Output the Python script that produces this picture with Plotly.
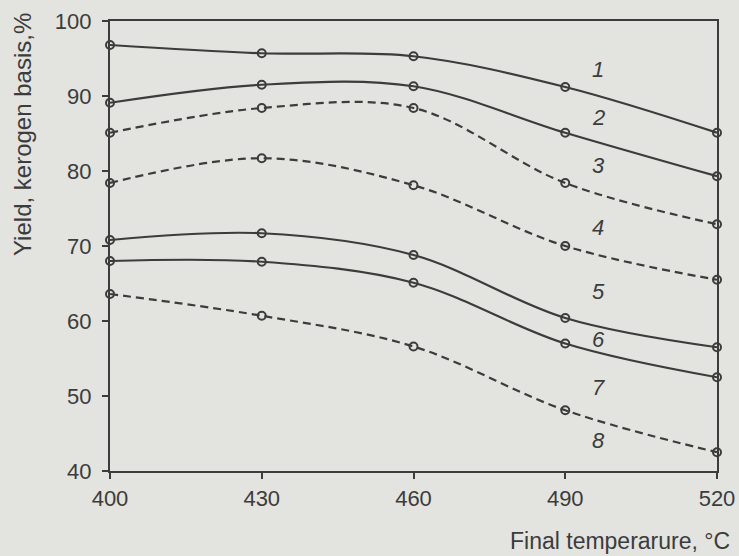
import plotly.graph_objects as go

temps = [400, 430, 460, 490, 520]
s1 = [96.8, 95.7, 95.3, 91.2, 85.1]
s2 = [89.1, 91.5, 91.3, 85.1, 79.3]
s3 = [85.1, 88.4, 88.4, 78.4, 72.9]
s4 = [78.4, 81.7, 78.1, 70.0, 65.5]
s5 = [70.8, 71.7, 68.8, 60.4, 56.5]
s6 = [68.0, 67.9, 65.1, 57.0, 52.5]
s8 = [63.6, 60.7, 56.6, 48.1, 42.5]
series = [("1", s1, "solid"), ("2", s2, "solid"), ("3", s3, "8px,5px"), ("4", s4, "8px,5px"),
          ("5", s5, "solid"), ("6", s6, "solid"), ("8", s8, "8px,5px")]

curve_labels = ["1", "2", "3", "4", "5", "6", "7", "8"]
label_x = [496.5, 496.5, 496.5, 496.5, 496.5, 496.5, 496.5, 496.5]
label_y = [93.5, 87.1, 80.8, 72.5, 63.9, 57.5, 51.1, 44.1]

ink = "#3c3c3c"
bg = "#e3e3df"
fam = "Liberation Sans, Arial"

fig = go.Figure()
for name, ys, dash in series:
    fig.add_trace(go.Scatter(
        x=temps, y=ys, mode="lines+markers", name=name,
        line=dict(color=ink, width=2.2, dash=dash, shape="spline", smoothing=1.0),
        marker=dict(symbol="circle-open", size=8, color=ink, line=dict(width=2, color=ink)),
        cliponaxis=False, showlegend=False))

for t, xv, yv in zip(curve_labels, label_x, label_y):
    fig.add_annotation(x=xv, y=yv, text="<i>" + t + "</i>", showarrow=False,
                       font=dict(size=22, color=ink, family=fam))

fig.add_annotation(xref="paper", yref="paper", x=1.0247, y=-0.156, xanchor="right", yanchor="middle",
                   text="Final temperarure, °C", showarrow=False,
                   font=dict(size=23, color=ink, family=fam))

fig.add_annotation(xref="paper", yref="paper", x=-0.1433, y=0.7467, xanchor="center", yanchor="middle",
                   text="Yield, kerogen basis,%", textangle=-90, showarrow=False,
                   font=dict(size=24, color=ink, family=fam))

fig.update_layout(
    width=739, height=556,
    margin=dict(l=110, r=22, t=21, b=85),
    paper_bgcolor=bg, plot_bgcolor=bg,
    font=dict(family=fam, size=22, color=ink),
    xaxis=dict(range=[400, 520], tickvals=temps, showgrid=False, zeroline=False,
               showline=True, linecolor=ink, linewidth=2.2, mirror=True, automargin=False,
               ticks="outside", ticklen=6, tickwidth=2, tickcolor=ink,
               tickfont=dict(size=22, color=ink, family=fam)),
    yaxis=dict(range=[40, 100], tickvals=[40, 50, 60, 70, 80, 90, 100], showgrid=False, zeroline=False,
               showline=True, linecolor=ink, linewidth=2.2, mirror=True, automargin=False,
               ticks="outside", ticklen=6, tickwidth=2, tickcolor=ink,
               ticklabelstandoff=6,
               tickfont=dict(size=22, color=ink, family=fam)),
)

fig.write_html("out.html", config={"displayModeBar": False},
               post_script="document.body.style.margin='0';document.body.style.background='#e3e3df';")
